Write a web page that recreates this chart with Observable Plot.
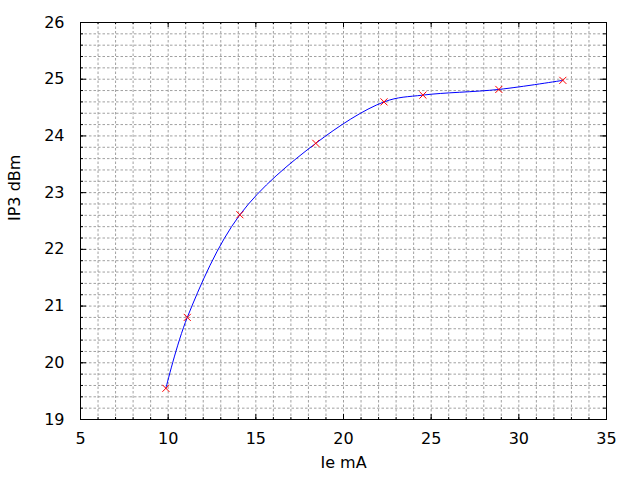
<!DOCTYPE html>
<html>
<head>
<meta charset="utf-8">
<script src="https://cdn.jsdelivr.net/npm/d3@7"></script>
<script src="https://cdn.jsdelivr.net/npm/@observablehq/plot@0.6"></script>
<style>
  html, body { margin: 0; padding: 0; background: #fff; }
  svg { display: block; }
</style>
</head>
<body>
<div id="chart"></div>
<script>
const ieMA   = [9.87, 11.09, 14.09, 18.42, 22.31, 24.53, 28.86, 32.51];
const ip3dBm = [19.55, 20.80, 22.61, 23.87, 24.60, 24.72, 24.82, 24.98];

const xMajor = [5, 10, 15, 20, 25, 30, 35];
const yMajor = [19, 20, 21, 22, 23, 24, 25, 26];
const xMinor = d3.range(6, 35, 1);
const yMinor = d3.range(95, 130, 1).map(v => v / 5);

const xLabel = "Ie mA";
const yLabel = "IP3 dBm";

const data = ieMA.map((x, i) => ({x, y: ip3dBm[i]}));

const W = 640, H = 480, mL = 80, mR = 34, mT = 22, mB = 61;
const innerW = W - mL - mR, innerH = H - mT - mB;
const gridStyle = {stroke: "#a0a0a0", strokeOpacity: 1, strokeDasharray: "2.5,2"};

const chart = Plot.plot({
  width: W, height: H,
  marginLeft: mL, marginRight: mR, marginTop: mT, marginBottom: mB,
  style: {fontFamily: "DejaVu Sans", fontSize: "16px", color: "#000", background: "#fff"},
  x: {domain: [5, 35]},
  y: {domain: [19, 26]},
  marks: [
    Plot.gridX(xMinor, gridStyle),
    Plot.gridY(yMinor.filter(v => v > 19 && v < 26), gridStyle),
    // inside ticks: bottom / top
    Plot.ruleX(xMinor, {stroke: "black", insetTop: innerH - 2}),
    Plot.ruleX(xMajor, {stroke: "black", insetTop: innerH - 5}),
    Plot.ruleX(xMinor, {stroke: "black", insetBottom: innerH - 2}),
    Plot.ruleX(xMajor, {stroke: "black", insetBottom: innerH - 5}),
    // inside ticks: left / right
    Plot.ruleY(yMinor, {stroke: "black", insetRight: innerW - 3}),
    Plot.ruleY(yMajor, {stroke: "black", insetRight: innerW - 6}),
    Plot.ruleY(yMinor, {stroke: "black", insetLeft: innerW - 3}),
    Plot.ruleY(yMajor, {stroke: "black", insetLeft: innerW - 6}),
    Plot.axisX(xMajor, {tickSize: 0, tickPadding: 13, label: null, fontSize: 16, tickFormat: d3.format("d")}),
    Plot.axisY(yMajor, {tickSize: 0, tickPadding: 16, label: null, fontSize: 16, tickFormat: d3.format("d")}),
    Plot.frame({stroke: "black", strokeWidth: 1}),
    Plot.line(data, {x: "x", y: "y", curve: "catmull-rom", stroke: "#0000ff", strokeWidth: 1}),
    Plot.dot(data, {x: "x", y: "y", symbol: "times", r: 3.3, stroke: "#ff0000", strokeWidth: 1}),
    Plot.text([xLabel], {frameAnchor: "bottom", dy: 48, text: d => d, fontSize: 16, fill: "black"}),
    Plot.text([yLabel], {frameAnchor: "left", dx: -66, rotate: -90, text: d => d, fontSize: 16, fill: "black"})
  ]
});
document.getElementById("chart").appendChild(chart);
</script>
</body>
</html>
